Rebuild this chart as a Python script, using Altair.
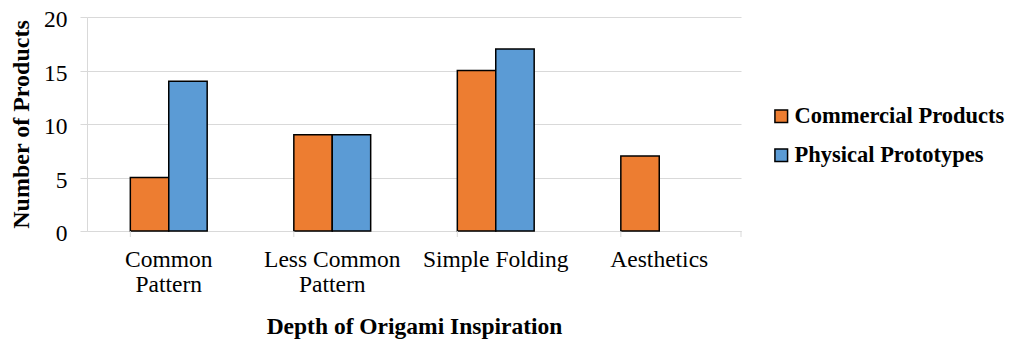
import altair as alt
import pandas as pd

categories = ["Common Pattern", "Less Common Pattern", "Simple Folding", "Aesthetics"]
series = ["Commercial Products", "Physical Prototypes"]
commercial = [5, 9, 15, 7]
physical = [14, 9, 17, 0]

rows = []
for c, v in zip(categories, commercial):
    rows.append({"cat": c, "series": series[0], "value": v})
for c, v in zip(categories, physical):
    if v > 0:
        rows.append({"cat": c, "series": series[1], "value": v})
df = pd.DataFrame(rows)
cats_df = pd.DataFrame({"cat": categories})

FONT = "Liberation Serif"
W, H = 654, 214
GRID = "#d9d9d9"
FS = 23.5

label_expr = ("datum.label == 'Common Pattern' ? ['Common','Pattern'] : "
              "datum.label == 'Less Common Pattern' ? ['Less Common','Pattern'] : datum.label")

xscale = alt.Scale(domain=categories, paddingInner=0.53, paddingOuter=0.265)

bars = alt.Chart(df).mark_bar(stroke="black", strokeWidth=1.5).encode(
    x=alt.X("cat:N", scale=xscale, sort=categories,
            axis=alt.Axis(title="Depth of Origami Inspiration", labelAngle=0, ticks=False,
                          labelExpr=label_expr, labelPadding=35, labelLineHeight=25,
                          labelBaseline="alphabetic",
                          labelFontSize=FS, labelFont=FONT, labelColor="black",
                          titleFont=FONT, titleFontSize=FS, titleFontWeight="bold",
                          titleColor="black", titlePadding=19, domainColor=GRID)),
    xOffset=alt.XOffset("series:N", sort=series),
    y=alt.Y("value:Q", scale=alt.Scale(domain=[0, 20]),
            axis=alt.Axis(title="Number of Products", values=[0, 5, 10, 15, 20],
                          tickSize=7, tickColor=GRID, domainColor=GRID, gridColor=GRID,
                          labelFontSize=FS, labelFont=FONT, labelColor="black", labelPadding=13,
                          labelOffset=2.5,
                          titleFont=FONT, titleFontSize=24, titleFontWeight="bold",
                          titleColor="black", titlePadding=10)),
    color=alt.Color("series:N", sort=series,
                    scale=alt.Scale(domain=series, range=["#ED7D31", "#5B9BD5"]),
                    legend=alt.Legend(title=None, orient="none", legendX=683, legendY=88,
                                      symbolType="square", symbolSize=160,
                                      symbolStrokeColor="black", symbolStrokeWidth=1.5,
                                      labelFont=FONT, labelFontSize=22.5, labelFontWeight="bold",
                                      labelColor="black", rowPadding=16, labelOffset=2,
                                      labelLimit=400)),
)

ticks = alt.Chart(cats_df).mark_rule(color=GRID, strokeWidth=1).encode(
    x=alt.X("cat:N", scale=xscale, sort=categories, bandPosition=0),
    y=alt.value(H), y2=alt.value(H + 6),
)
end_tick = alt.Chart(cats_df.head(1)).mark_rule(color=GRID, strokeWidth=1).encode(
    x=alt.value(W), y=alt.value(H), y2=alt.value(H + 6),
)

chart = alt.layer(bars, ticks, end_tick).properties(
    width=W, height=H,
    autosize=alt.AutoSizeParams(type="none"),
    padding={"left": 79, "top": 9, "right": 267, "bottom": 108},
).configure_view(stroke=None)

chart.save("out.html", embed_options={"renderer": "svg", "actions": False})
